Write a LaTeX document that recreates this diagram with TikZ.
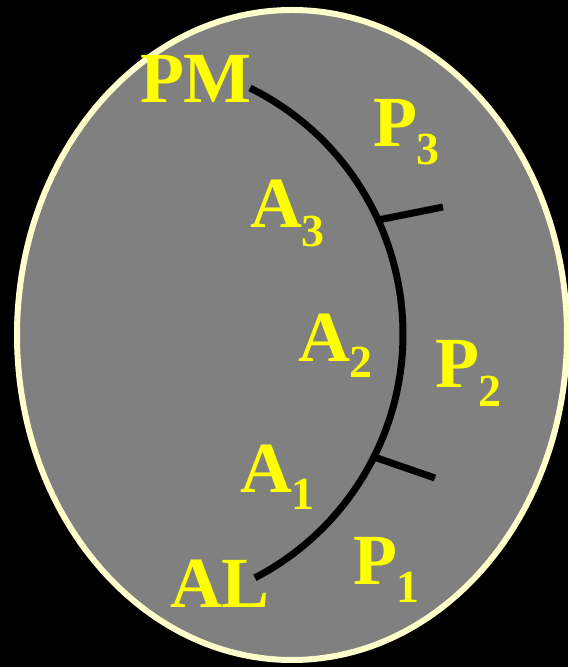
\documentclass[tikz,border=0pt]{standalone}
\usepackage{fontspec}
\setmainfont{Liberation Serif}
\definecolor{ovalfill}{HTML}{808080}
\definecolor{ovalrim}{HTML}{FFFFCC}
\definecolor{labyellow}{HTML}{FFFF00}
\newcommand{\mysub}[2]{\raisebox{-#1pt}{\fontsize{46}{46}\selectfont #2}}
\begin{document}
\begin{tikzpicture}[x=1pt,y=1pt,
  oval/.style={fill=ovalfill,draw=ovalrim,line width=6pt},
  arcline/.style={draw=black,line width=7pt},
  labeltext/.style={text=labyellow,font=\fontsize{72}{72}\selectfont\bfseries,inner sep=0pt,outer sep=0pt,anchor=base west}]
\useasboundingbox[fill=black] (0,0) rectangle (568,667);
\draw[oval] (292,332) ellipse [x radius=275, y radius=325];
% main arc
\coordinate (pmend) at (250,579);
\coordinate (alend) at (255,89);
\draw[arcline] (pmend) arc[start angle=63.7, end angle=-62.55, radius=274.6pt];
% ticks
\coordinate (tick3a) at (378,447);
\coordinate (tick3b) at (443,460);
\coordinate (tick1a) at (374,210);
\coordinate (tick1b) at (435,189);
\draw[arcline] (tick3a) -- (tick3b);
\draw[arcline] (tick1a) -- (tick1b);
% labels
\node[labeltext] (pm) at (140,564) {PM};
\node[labeltext] (p3) at (373,520) {P\mysub{18}{3}};
\node[labeltext] (a3) at (250,439) {A\mysub{19}{3}};
\node[labeltext] (a2) at (298,305) {A\mysub{16}{2}};
\node[labeltext] (p2) at (435,279) {P\mysub{19}{2}};
\node[labeltext] (a1) at (240,174) {A\mysub{17}{1}};
\node[labeltext] (p1) at (353,82) {P\mysub{18}{1}};
\node[labeltext] (al) at (170,59) {AL};
\end{tikzpicture}
\end{document}
